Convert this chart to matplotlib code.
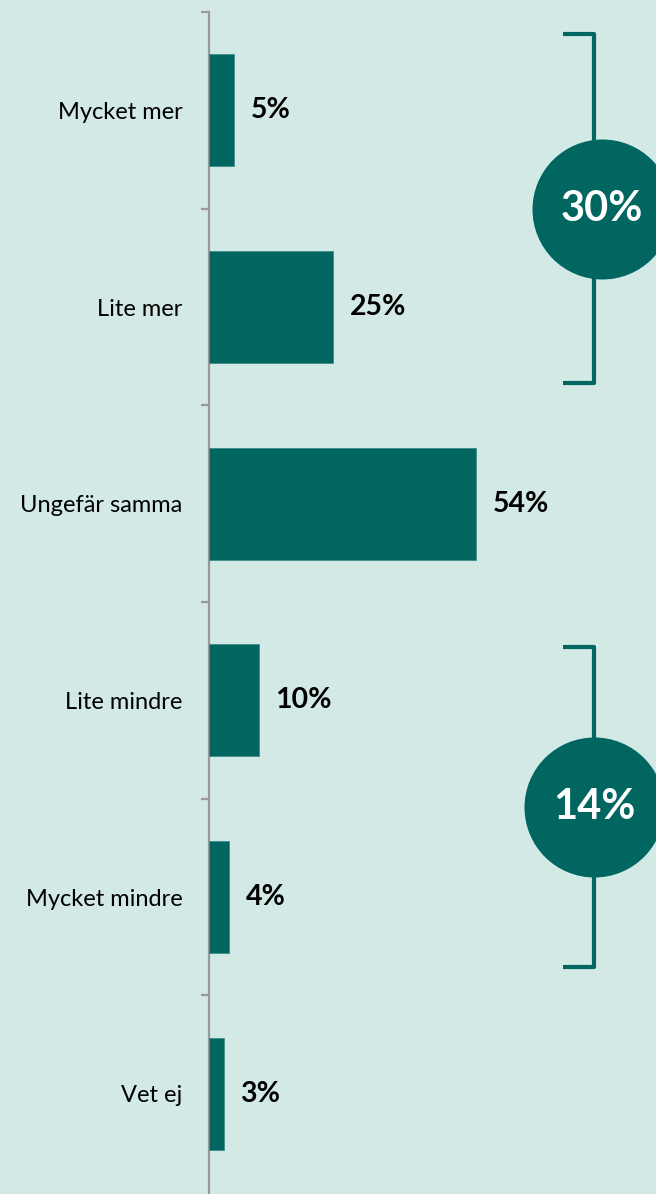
import matplotlib.pyplot as plt
import numpy as np

# === Data ===
categories = ["Mycket mer", "Lite mer", "Ungefär samma", "Lite mindre", "Mycket mindre", "Vet ej"]
values = [5, 25, 54, 10, 4, 3]
value_labels = ["5%", "25%", "54%", "10%", "4%", "3%"]
groups = [(0, 1, "30%"), (3, 4, "14%")]

# === Style ===
bg = "#D2E9E6"
teal = "#00665F"
plt.rcParams['font.family'] = ['Lato', 'DejaVu Sans']

fig = plt.figure(figsize=(6.56, 11.94), dpi=100, facecolor=bg)
ax = fig.add_axes([209 / 656, 0, 1 - 209 / 656, 1 - 12 / 1194])
ax.set_facecolor(bg)

y = np.arange(len(categories))
ax.barh(y, values, height=0.57, color=teal, edgecolor="#3E8F88", linewidth=0.6, zorder=3)

for yi, v, lab in zip(y, values, value_labels):
    ax.annotate(lab, (v, yi), xytext=(12, 0), textcoords="offset points",
                ha="left", va="center", fontsize=20.5, fontweight="bold", color="black")

ax.set_xlim(0, 90.3)
ax.set_ylim(5.5 + 2 / 197.3, -0.5)

# axis, ticks
for s in ["top", "right", "bottom"]:
    ax.spines[s].set_visible(False)
ax.spines["left"].set_color("#9A9A9A")
ax.spines["left"].set_linewidth(1.6)
ax.set_xticks([])
ax.set_yticks(y)
ax.set_yticklabels(categories, fontsize=17)
ax.tick_params(axis="y", which="major", length=0, pad=19)
ax.set_yticks(np.arange(-0.5, 5.5, 1.0), minor=True)
ax.tick_params(axis="y", which="minor", length=6, width=1.6, color="#9A9A9A")

# === Brackets with summary circles ===
bx, arm = 77.8, 71.5
for (i0, i1, txt), (top, bot, cx) in zip(groups, [(-0.39, 0.385, 79.4), (-0.27, 0.355, 77.8)]):
    y0 = i0 + top
    y1 = i1 + bot
    ax.plot([arm, bx, bx, arm], [y0, y0, y1, y1], color=teal, lw=3,
            solid_joinstyle="round", solid_capstyle="butt", clip_on=False, zorder=4)
    cy = (i0 + i1) / 2 + 0.04 * (i0 > 0)
    ax.scatter([cx], [cy], s=100.8 ** 2, color=teal, zorder=5, clip_on=False, linewidths=0)
    ax.text(cx, cy, txt, color="white", fontsize=30, fontweight="bold",
            ha="center", va="center", zorder=6)

plt.savefig("out.png", dpi=100, facecolor=bg)
plt.close()
